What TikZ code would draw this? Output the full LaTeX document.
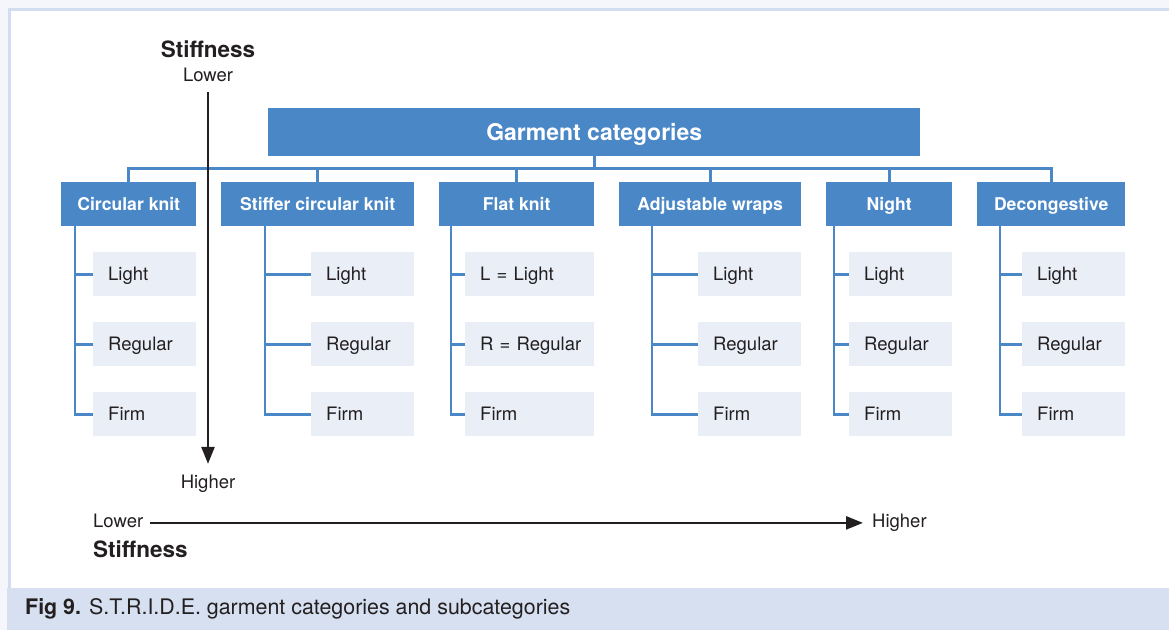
\documentclass[tikz,border=0pt]{standalone}
\usepackage{fontspec}
\setmainfont{TeX Gyre Heros}
\usetikzlibrary{arrows.meta}
\definecolor{gblue}{HTML}{4A87C6}
\definecolor{subfill}{HTML}{E9EEF7}
\definecolor{capband}{HTML}{D6E0F0}
\definecolor{framecol}{HTML}{D3DDEF}
\definecolor{outerbg}{HTML}{F4F6FB}
\definecolor{txt}{HTML}{231F20}
\begin{document}
\begin{tikzpicture}[x=1pt,y=-1pt,
  topbox/.style={fill=gblue, text=white, font=\fontsize{23}{27}\selectfont\bfseries,
    anchor=north west, inner sep=0pt, minimum height=48pt, minimum width=652pt, text depth=0pt},
  catbox/.style={fill=gblue, text=white, font=\fontsize{17.6}{21}\selectfont\bfseries,
    anchor=north west, inner sep=0pt, minimum height=44pt, minimum width=#1, text depth=0pt},
  subbox/.style={fill=subfill, text=txt, font=\fontsize{18.5}{22}\selectfont,
    anchor=north west, inner xsep=15pt, inner ysep=0pt, minimum height=44pt,
    text width=#1, align=left, text depth=0pt},
  subbox/.default=73pt,
  conn/.style={draw=gblue, line width=2.6pt},
  axis/.style={draw=txt, line width=2.5pt, -{Triangle[length=17pt,width=13pt]}},
  lbl/.style={text=txt, font=\fontsize{18.5}{22}\selectfont, inner sep=0pt},
  blbl/.style={text=txt, font=\fontsize{22.5}{26}\selectfont\bfseries, inner sep=0pt}
]
\useasboundingbox (0,0) rectangle (1169,630);
% background and frame
\fill[outerbg] (0,0) rectangle (1169,630);
\filldraw[fill=white, draw=framecol, line width=3pt] (9.5,9.5) rectangle (1180,600);
\fill[capband] (7,588) rectangle (1169,630);

% top box
\node[topbox] (top) at (268,108) {Garment categories};

% categories
\node[catbox=135pt] (c1) at (61,182) {Circular knit};
\node[catbox=193pt] (c2) at (221,182) {Stiffer circular knit};
\node[catbox=155pt] (c3) at (439,182) {Flat knit};
\node[catbox=182pt] (c4) at (619,182) {Adjustable wraps};
\node[catbox=126pt] (c5) at (826,182) {Night};
\node[catbox=148pt] (c6) at (977,182) {Decongestive};

% bus
\coordinate (bus) at (594,168.5);
\draw[conn] (top.south) -- (top.south |- bus);
\draw[conn, line cap=rect] (c1.north) -- (c1.north |- bus) -- (c6.north |- bus) -- (c6.north);
\foreach \c in {c2,c3,c4,c5} { \draw[conn] (\c.north) -- (\c.north |- bus); }

% sub boxes
\node[subbox] (l1) at (93,252) {Light};
\node[subbox] (r1) at (93,322) {Regular};
\node[subbox] (f1) at (93,392) {Firm};
\node[subbox] (l2) at (311,252) {Light};
\node[subbox] (r2) at (311,322) {Regular};
\node[subbox] (f2) at (311,392) {Firm};
\node[subbox=99pt] (l3) at (465,252) {\mbox{L = Light}};
\node[subbox=99pt] (r3) at (465,322) {\mbox{R = Regular}};
\node[subbox=99pt] (f3) at (465,392) {Firm};
\node[subbox] (l4) at (698,252) {Light};
\node[subbox] (r4) at (698,322) {Regular};
\node[subbox] (f4) at (698,392) {Firm};
\node[subbox] (l5) at (849,252) {Light};
\node[subbox] (r5) at (849,322) {Regular};
\node[subbox] (f5) at (849,392) {Firm};
\node[subbox] (l6) at (1022,252) {Light};
\node[subbox] (r6) at (1022,322) {Regular};
\node[subbox] (f6) at (1022,392) {Firm};

% trunks
\foreach \i/\off in {1/14,2/44,3/12,4/33,5/8,6/23} {
  \draw[conn] ([xshift=\off pt]c\i.south west) |- (f\i.west);
  \draw[conn] (l\i.west) -| ([xshift=\off pt]c\i.south west);
  \draw[conn] (r\i.west) -| ([xshift=\off pt]c\i.south west);
}

% vertical stiffness axis
\node[blbl, anchor=base] (stv) at (208,57) {Stiffness};
\node[lbl, anchor=base] (lowv) at (208,81) {Lower};
\node[lbl, anchor=base] (highv) at (208,488) {Higher};
\draw[axis, shorten <=11pt, shorten >=10.5pt] (lowv.south) -- (highv.north);

% horizontal stiffness axis
\node[lbl, anchor=base west] (lowh) at (93,527) {Lower};
\node[lbl, anchor=base west] (highh) at (872,527) {Higher};
\node[blbl, anchor=base west] (sth) at (93,557) {Stiffness};
\draw[axis, shorten <=7pt, shorten >=9pt] ([yshift=1.5pt]lowh.mid east) -- ([yshift=1.5pt]highh.mid west);

% caption
\node[text=txt, font=\fontsize{21.4}{25}\selectfont, anchor=base west, inner sep=0pt] (cap) at (25,614)
  {\textbf{Fig 9.} S.T.R.I.D.E. garment categories and subcategories};
\end{tikzpicture}
\end{document}
